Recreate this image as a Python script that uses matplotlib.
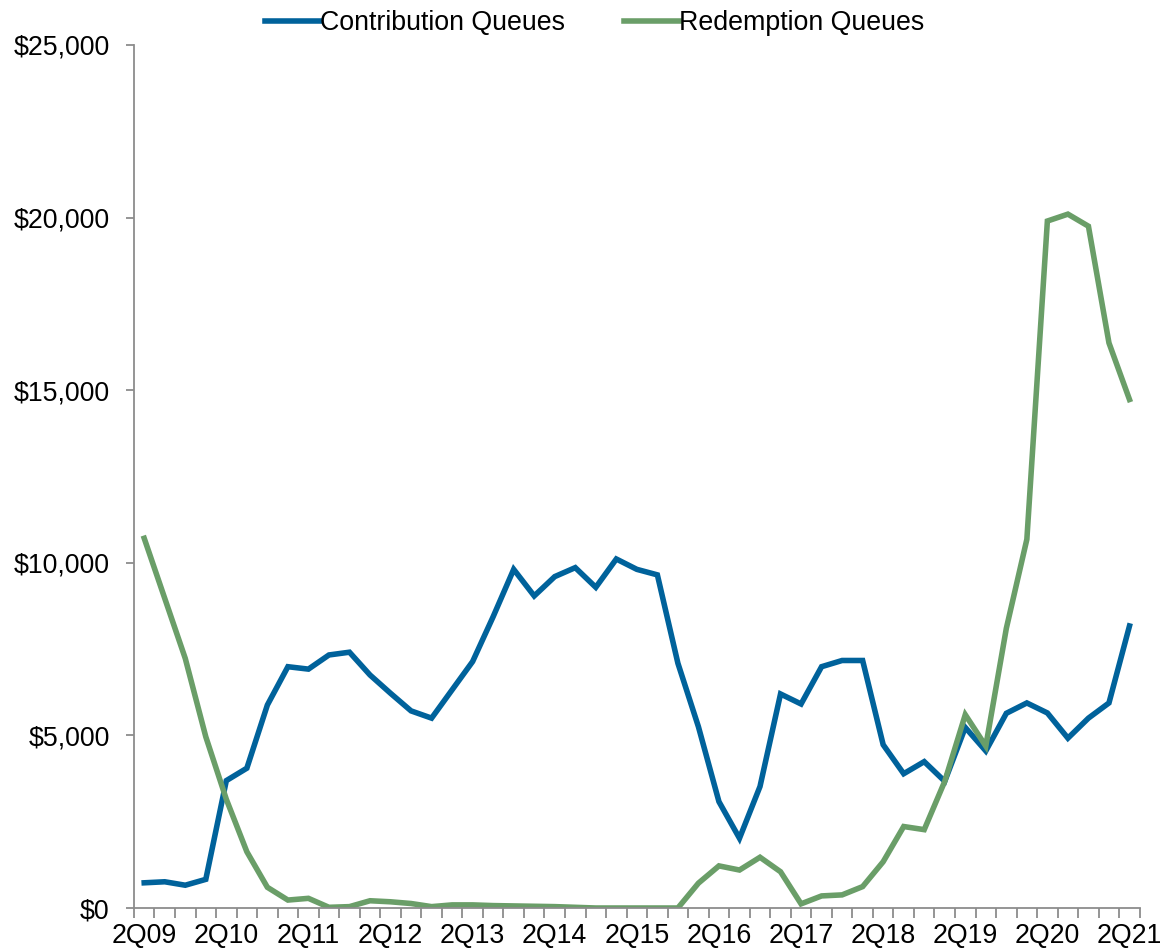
import numpy as np
import matplotlib.pyplot as plt
from matplotlib.ticker import FuncFormatter, MultipleLocator

plt.rcParams['font.family'] = ['Liberation Sans', 'DejaVu Sans']

# quarters 2Q09 .. 2Q21
quarters = []
for yr in range(9, 22):
    for q in range(1, 5):
        quarters.append(f"{q}Q{yr:02d}")
quarters = quarters[1:-2]  # 2Q09 .. 2Q21

contribution = [730, 760, 660, 830, 3690, 4050, 5880, 6990, 6920, 7330,
                7410, 6750, 6220, 5710, 5500, 6320, 7140, 8440, 9810, 9040,
                9600, 9860, 9290, 10110, 9810, 9650, 7090, 5250, 3080, 2020,
                3520, 6200, 5910, 6990, 7170, 7170, 4730, 3890, 4240, 3670,
                5230, 4550, 5640, 5940, 5650, 4920, 5500, 5940, 8170]

redemption = [10710, 8970, 7230, 4960, 3150, 1630, 600, 230, 280, 20,
              40, 210, 180, 130, 40, 90, 90, 70, 60, 50,
              40, 20, 0, 0, 0, 0, 0, 720, 1220, 1100,
              1470, 1050, 120, 350, 380, 620, 1340, 2360, 2270, 3670,
              5600, 4690, 8100, 10680, 19900, 20100, 19750, 16370, 14730]

blue = '#00629B'
green = '#6A9E68'
fs = 19.3

fig = plt.figure(figsize=(11.75, 9.49), dpi=100)
ax = fig.add_axes([0.114, 0.0432, 0.856, 0.9094])

x = np.arange(len(quarters))
ax.plot(x, contribution, color=blue, lw=4.0, solid_joinstyle='miter',
        label='Contribution Queues')
ax.plot(x, redemption, color=green, lw=4.0, solid_joinstyle='miter',
        label='Redemption Queues')

ax.set_xlim(-0.5, len(quarters) - 0.5)
ax.set_ylim(0, 25000)

ax.yaxis.set_major_locator(MultipleLocator(5000))
ax.yaxis.set_major_formatter(FuncFormatter(lambda v, p: f"${v:,.0f}"))

ax.set_xticks(x[::4])
ax.set_xticklabels(quarters[::4])
ax.set_xticks(np.arange(-0.5, len(quarters), 1), minor=True)

for s in ['top', 'right']:
    ax.spines[s].set_visible(False)
for s in ['left', 'bottom']:
    ax.spines[s].set_color('#8c8c8c')
    ax.spines[s].set_linewidth(1.3)

ax.tick_params(axis='y', which='major', direction='out', length=6,
               width=1.3, color='#8c8c8c', labelsize=fs, pad=11.5)
ax.tick_params(axis='x', which='major', length=0, labelsize=fs, pad=11)
ax.tick_params(axis='x', which='minor', direction='out', length=7,
               width=1.3, color='#8c8c8c')

leg = ax.legend(loc='upper center', bbox_to_anchor=(0.458, 1.068), ncol=2,
                frameon=False, fontsize=fs, handlelength=2.05,
                handletextpad=0.0, columnspacing=2.2)

plt.savefig('out.png', dpi=100)
